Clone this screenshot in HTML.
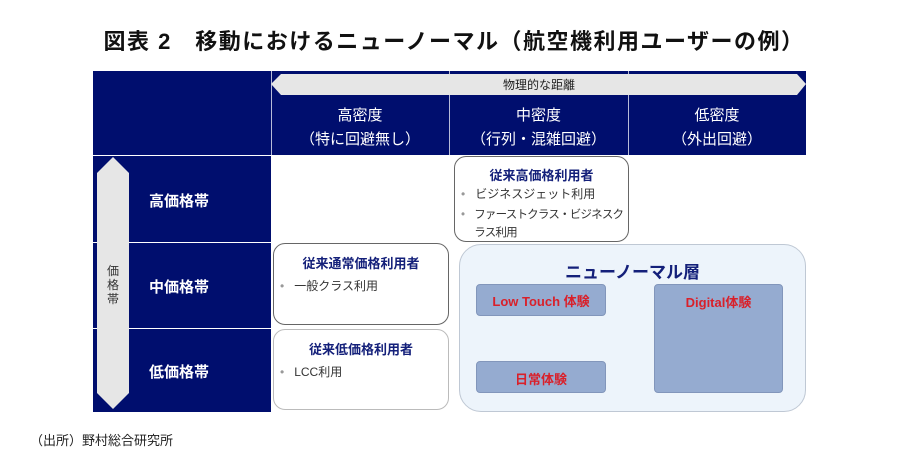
<!DOCTYPE html>
<html><head><meta charset="utf-8"><style>
body{margin:0;width:900px;height:465px;background:#fff;position:relative;overflow:hidden;font-family:"Liberation Sans","Noto Sans CJK JP",sans-serif}
.a{position:absolute;box-sizing:border-box}
.nav{background:#000e6e;color:#fff}
.c{display:flex;align-items:center;justify-content:center;text-align:center}
.box{border:1px solid #666;border-radius:12px;background:#fff}
.t{color:#14207a;font-weight:bold;font-size:13px;text-align:center}
.li{font-size:12px;color:#333;margin-left:6px;line-height:20px;white-space:nowrap}
.li span{color:#999;margin-right:10px}
.sub{background:#95abd0;border:1px solid #8296bb;border-radius:4px;color:#d9202a;font-size:13px;font-weight:bold;display:flex;justify-content:center}
</style></head><body>
<div class="a" style="left:4px;top:24px;width:900px;text-align:center;font-size:22px;letter-spacing:1.5px;font-weight:bold;color:#111">図表 2　移動におけるニューノーマル（航空機利用ユーザーの例）</div>
<div class="a nav" style="left:93px;top:71px;width:713px;height:84px"></div>
<div class="a" style="left:449px;top:71px;width:1px;height:84px;background:#b8bcd8"></div>
<div class="a" style="left:628px;top:71px;width:1px;height:84px;background:#b8bcd8"></div>
<div class="a" style="left:271px;top:71px;width:1px;height:84px;background:#b8bcd8"></div>
<svg class="a" style="left:271px;top:73px" width="536" height="24"><polygon points="0,11 10,1 526,1 535,11 526,22 10,22" fill="#e6e6e6"/><text x="268" y="16" text-anchor="middle" font-size="12" fill="#222" font-family="Liberation Sans,Noto Sans CJK JP,sans-serif">物理的な距離</text></svg>
<div class="a c" style="left:271px;top:102px;width:178px;height:52px;color:#fff;font-size:15px;line-height:24px">高密度<br>（特に回避無し）</div>
<div class="a c" style="left:449px;top:102px;width:179px;height:52px;color:#fff;font-size:15px;line-height:24px">中密度<br>（行列・混雑回避）</div>
<div class="a c" style="left:628px;top:102px;width:178px;height:52px;color:#fff;font-size:15px;line-height:24px">低密度<br>（外出回避）</div>
<div class="a nav" style="left:93px;top:156px;width:178px;height:86px"></div>
<div class="a nav" style="left:93px;top:243px;width:178px;height:85px"></div>
<div class="a nav" style="left:93px;top:329px;width:178px;height:83px"></div>
<svg class="a" style="left:96px;top:157px" width="36" height="253"><polygon points="17,0 33,16 33,236 17,252 1,236 1,16" fill="#e6e6e6"/><text x="17" y="118" text-anchor="middle" font-size="12" fill="#333" font-family="Liberation Sans,Noto Sans CJK JP,sans-serif">価</text><text x="17" y="132" text-anchor="middle" font-size="12" fill="#333" font-family="Liberation Sans,Noto Sans CJK JP,sans-serif">格</text><text x="17" y="146" text-anchor="middle" font-size="12" fill="#333" font-family="Liberation Sans,Noto Sans CJK JP,sans-serif">帯</text></svg>
<div class="a" style="left:149px;top:190px;color:#fff;font-size:15px;font-weight:bold">高価格帯</div>
<div class="a" style="left:149px;top:276px;color:#fff;font-size:15px;font-weight:bold">中価格帯</div>
<div class="a" style="left:149px;top:361px;color:#fff;font-size:15px;font-weight:bold">低価格帯</div>
<div class="a box" style="left:454px;top:156px;width:175px;height:86px;padding-top:8px">
<div class="t">従来高価格利用者</div>
<div class="li"><span>•</span>ビジネスジェット利用</div>
<div class="li" style="display:flex;font-size:11.5px;letter-spacing:-0.8px;line-height:18px;margin-top:2px"><span>•</span><div>ファーストクラス・ビジネスク<br>ラス利用</div></div></div>
<div class="a box" style="left:273px;top:243px;width:176px;height:82px;padding-top:9px">
<div class="t">従来通常価格利用者</div><div class="li" style="margin-top:4px"><span>•</span>一般クラス利用</div></div>
<div class="a box" style="left:273px;top:329px;width:176px;height:81px;padding-top:9px;border-color:#bbb">
<div class="t">従来低価格利用者</div><div class="li" style="margin-top:4px"><span>•</span>LCC利用</div></div>
<div class="a" style="left:459px;top:244px;width:347px;height:168px;background:#edf4fb;border:1px solid #bfc8d4;border-radius:22px"></div>
<div class="a" style="left:459px;top:258px;width:347px;text-align:center;color:#14207a;font-weight:bold;font-size:17px">ニューノーマル層</div>
<div class="a sub" style="left:476px;top:284px;width:130px;height:32px;padding-top:6px">Low Touch 体験</div>
<div class="a sub" style="left:476px;top:361px;width:130px;height:32px;padding-top:7px">日常体験</div>
<div class="a sub" style="left:654px;top:284px;width:129px;height:109px;padding-top:7px">Digital体験</div>
<div class="a" style="left:30px;top:430px;font-size:13px;color:#222">（出所）野村総合研究所</div>
</body></html>
